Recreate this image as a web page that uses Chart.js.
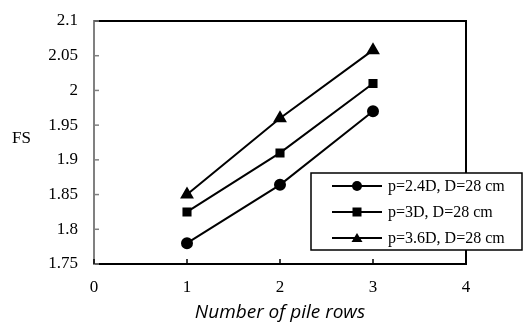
<!DOCTYPE html>
<html><head><meta charset="utf-8">
<script src="https://cdn.jsdelivr.net/npm/chart.js@4"></script>
<style>html,body{margin:0;padding:0;background:#fff;}#wrap{width:523px;height:327px;}</style>
</head><body><div id="wrap"><canvas id="c" width="523" height="327"></canvas></div>
<script>
const xValues = [1, 2, 3];
const seriesLabels = ["p=2.4D, D=28 cm", "p=3D, D=28 cm", "p=3.6D, D=28 cm"];
const series24 = [1.78, 1.864, 1.97];
const series3 = [1.825, 1.91, 2.01];
const series36 = [1.85, 1.96, 2.058];
const markers = ["circle", "rect", "triangle"];
const xTitle = "Number of pile rows";
const yTitle = "FS";

const SERIF = "'Liberation Serif', 'Times New Roman', serif";
Chart.defaults.font.family = SERIF;
Chart.defaults.font.size = 17;
Chart.defaults.color = "#000";
const allSeries = [series24, series3, series36];
const datasets = allSeries.map((s, i) => ({
  label: seriesLabels[i],
  data: s.map((v, j) => ({x: xValues[j], y: v})),
  borderColor: "#000", backgroundColor: "#000",
  borderWidth: 2, pointStyle: markers[i],
  pointRadius: i === 2 ? 6 : 5, pointHoverRadius: 5, tension: 0
}));

const deco = {
  id: "deco",
  afterDraw(chart) {
    const ctx = chart.ctx, a = chart.chartArea;
    const xs = chart.scales.x, ys = chart.scales.y;
    ctx.save();
    ctx.strokeStyle = "#000"; ctx.lineWidth = 2;
    ctx.beginPath(); ctx.moveTo(a.left, a.top); ctx.lineTo(a.right, a.top); ctx.lineTo(a.right, a.bottom); ctx.stroke();
    ctx.lineWidth = 1.5; ctx.strokeStyle = "#808080";
    ys.ticks.forEach(t => { const y = ys.getPixelForValue(t.value); ctx.beginPath(); ctx.moveTo(a.left, y); ctx.lineTo(a.left + 5, y); ctx.stroke(); });
    ctx.strokeStyle = "#000";
    xs.ticks.forEach(t => { const x = xs.getPixelForValue(t.value); ctx.beginPath(); ctx.moveTo(x, a.bottom); ctx.lineTo(x, a.bottom - 5); ctx.stroke(); });
    ctx.fillStyle = "#000"; ctx.font = "17px " + SERIF; ctx.textAlign = "left"; ctx.textBaseline = "middle";
    ctx.fillText(yTitle, 12, 139);
    ctx.font = "italic 19px 'Open Sans'"; ctx.textAlign = "center";
    ctx.fillText(xTitle, (a.left + a.right) / 2, 313);
    const bx = 311, by = 173, bw = 211, bh = 77;
    ctx.fillStyle = "#fff"; ctx.fillRect(bx, by, bw, bh);
    ctx.strokeStyle = "#000"; ctx.lineWidth = 1.5; ctx.strokeRect(bx, by, bw, bh);
    const rows = [186, 212, 238];
    chart.data.datasets.forEach((d, i) => {
      const y = rows[i];
      ctx.strokeStyle = "#000"; ctx.lineWidth = 2;
      ctx.beginPath(); ctx.moveTo(332, y); ctx.lineTo(382, y); ctx.stroke();
      ctx.fillStyle = "#000";
      if (d.pointStyle === "circle") { ctx.beginPath(); ctx.arc(357, y, 5, 0, Math.PI * 2); ctx.fill(); }
      else if (d.pointStyle === "rect") { ctx.fillRect(352.5, y - 4.5, 9, 9); }
      else { ctx.beginPath(); ctx.moveTo(357, y - 5); ctx.lineTo(362.5, y + 4); ctx.lineTo(351.5, y + 4); ctx.closePath(); ctx.fill(); }
      ctx.font = "16px " + SERIF; ctx.textAlign = "left"; ctx.textBaseline = "middle";
      ctx.fillText(d.label, 388, y + 1);
    });
    ctx.restore();
  }
};

new Chart(document.getElementById("c"), {
  type: "line",
  data: {datasets},
  options: {
    responsive: false, animation: false, devicePixelRatio: 1,
    layout: {padding: {top: 21, right: 57, left: 0, bottom: 0}},
    plugins: {legend: {display: false}, tooltip: {enabled: false}},
    scales: {
      x: {
        type: "linear", min: 0, max: 4,
        ticks: {stepSize: 1, color: "#000", font: {family: SERIF, size: 17}, padding: 13},
        grid: {display: true, drawOnChartArea: false, drawTicks: false},
        border: {color: "#000", width: 2},
        afterFit(s) { s.height = 63; s.paddingLeft = 0; s.paddingRight = 0; }
      },
      y: {
        min: 1.75, max: 2.1,
        ticks: {stepSize: 0.05, color: "#000", font: {family: SERIF, size: 17}, padding: 16,
          callback: v => String(Math.round(v * 100) / 100)},
        grid: {display: true, drawOnChartArea: false, drawTicks: false},
        border: {color: "#808080", width: 2},
        afterFit(s) { s.width = 94; s.paddingTop = 0; s.paddingBottom = 0; }
      }
    }
  },
  plugins: [deco]
});
</script></body></html>
